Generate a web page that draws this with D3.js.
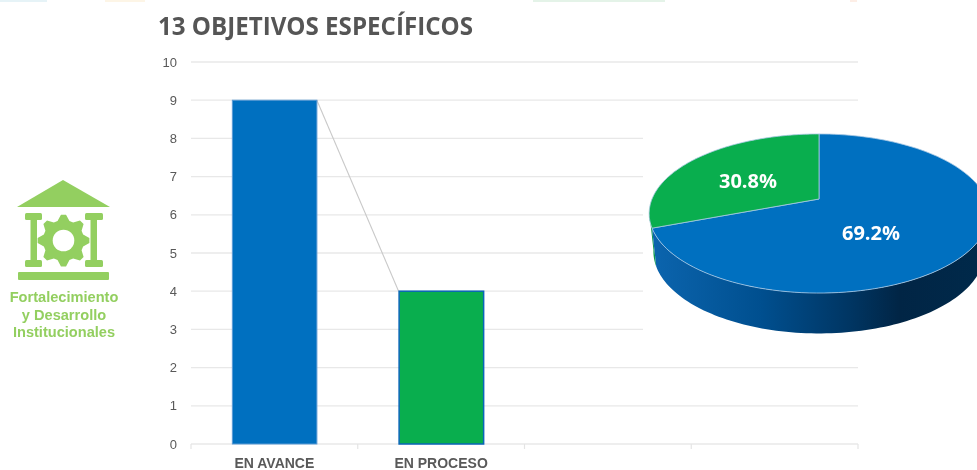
<!DOCTYPE html>
<html><head><meta charset="utf-8">
<script src="https://cdn.jsdelivr.net/npm/d3@7"></script>
<style>html,body{margin:0;padding:0;background:#fff;overflow:hidden}svg{display:block;filter:blur(0.45px)}</style>
</head><body><div id="c"></div>
<script>
const title = "13 OBJETIVOS ESPECÍFICOS";
const categories = ["EN AVANCE", "EN PROCESO", " ", "  "];
const barValues = [9, 4];
const barColors = ["#0070c0", "#09ae4e"];
const barStrokes = ["#5b9bd5", "#0a66b8"];
const yTicks = [0,1,2,3,4,5,6,7,8,9,10];
const pieLabels = ["69.2%", "30.8%"];
const pieColors = ["#0070c0", "#09ae4e"];
const iconLines = ["Fortalecimiento", "y Desarrollo", "Institucionales"];
const iconGreen = "#93cf60";
const W = 977, H = 470;

const svg = d3.select("#c").append("svg").attr("width", W).attr("height", H);
const defs = svg.append("defs");

// faint strips along the top edge
[[0,47,"#e6f3f7"],[105,145,"#fdf5e6"],[533,665,"#e4f3e8"],[850,857,"#fdeee6"]].forEach(s=>{
  svg.append("rect").attr("x",s[0]).attr("y",0).attr("width",s[1]-s[0]).attr("height",2).attr("fill",s[2]);
});

svg.append("text").attr("x",158).attr("y",35).text(title)
  .attr("font-family","'Open Sans',sans-serif").attr("font-weight",700).attr("font-size",25)
  .attr("fill","#555555").attr("textLength",315).attr("lengthAdjust","spacingAndGlyphs");

// ---- bar chart
const x = d3.scaleBand().domain(categories).range([191, 858]).paddingInner(0).paddingOuter(0);
const y = d3.scaleLinear().domain([0, 10]).range([444, 62]);
const barW = x.bandwidth() * 0.51;
const barX = i => x(categories[i]) + (x.bandwidth() - barW) / 2;

const grid = svg.append("g");
grid.selectAll("line").data(yTicks).join("line")
  .attr("x1",191).attr("x2",858).attr("y1",d=>y(d)).attr("y2",d=>y(d))
  .attr("stroke","#e8e8e8").attr("stroke-width",1.3);
grid.selectAll("text").data(yTicks).join("text")
  .attr("x",177).attr("y",d=>y(d)+4.5).attr("text-anchor","end").text(d=>d)
  .attr("font-family","'Liberation Sans',sans-serif").attr("font-size",13).attr("fill","#595959");

const edges = categories.map(c=>x(c)).concat([858]);
svg.append("g").selectAll("line").data(edges).join("line")
  .attr("x1",d=>d).attr("x2",d=>d).attr("y1",444).attr("y2",449)
  .attr("stroke","#e4e4e4").attr("stroke-width",1.2);

svg.append("rect").attr("x",643).attr("y",120).attr("width",334).attr("height",225).attr("fill","#fff");

svg.append("line")
  .attr("x1",barX(0)+barW).attr("y1",y(barValues[0]))
  .attr("x2",barX(1)).attr("y2",y(barValues[1]))
  .attr("stroke","#c9c9c9").attr("stroke-width",1.1);

svg.append("g").selectAll("rect").data(barValues).join("rect")
  .attr("x",(d,i)=>barX(i)+0.5).attr("y",d=>y(d))
  .attr("width",barW-0.5).attr("height",d=>y(0)-y(d))
  .attr("fill",(d,i)=>barColors[i]).attr("stroke",(d,i)=>barStrokes[i]).attr("stroke-width",(d,i)=>i?1.5:1);

svg.append("g").selectAll("text").data(categories.slice(0,2)).join("text")
  .attr("x",d=>x(d)+x.bandwidth()/2).attr("y",468).attr("text-anchor","middle").text(d=>d)
  .attr("font-family","'Liberation Sans',sans-serif").attr("font-weight",700).attr("font-size",14)
  .attr("fill","#595959");

// ---- perspective pie
const cx = 819, cy = 199, persp = -0.1824, ky = 40.6, rx = 167;
const project = a => {
  const u = Math.sin(a), v = -Math.cos(a), w = 1 + persp * v;
  return [cx + rx * u / w, (cy + ky * v) / w];
};
const lower = p => [cx + (p[0]-cx)*0.975, p[1]*1.03 - 213.5*0.03 + 38];
const arcs = d3.pie().sort(null)(barValues);
const line = d3.line();
const samples = (a0, a1) => d3.range(0, 121).map(i => a0 + (a1 - a0) * i / 120);

const grad = defs.append("linearGradient").attr("id","wall").attr("gradientUnits","userSpaceOnUse")
  .attr("x1",655).attr("x2",977).attr("y1",0).attr("y2",0);
[[0,"#0b64ad"],[0.33,"#004f8f"],[0.61,"#003562"],[0.76,"#012545"],[1,"#00294a"]].forEach(s=>
  grad.append("stop").attr("offset",s[0]).attr("stop-color",s[1]));

const wall = (a0, a1, fill) => {
  const top = samples(a0, a1).map(project);
  const bot = top.map(lower).reverse();
  svg.append("path").attr("d", line(top.concat(bot)) + "Z").attr("fill", fill);
};
const split = arcs[0].endAngle;
wall(split, split + 0.2, "#0a9a48");
wall(1.3, split, "url(#wall)");

const sector = d => line([[cx, cy]].concat(samples(d.startAngle, d.endAngle).map(project))) + "Z";
svg.append("g").selectAll("path").data(arcs).join("path")
  .attr("d", sector).attr("fill",(d,i)=>pieColors[i])
  .attr("stroke","#a9c9e4").attr("stroke-width",0.8).attr("stroke-linejoin","round");

svg.append("g").selectAll("text").data(pieLabels).join("text")
  .attr("x",(d,i)=>[871,748][i]).attr("y",(d,i)=>[240,188][i]).attr("text-anchor","middle").text(d=>d)
  .attr("font-family","'Open Sans',sans-serif").attr("font-weight",700).attr("font-size",20).attr("fill","#fff");

// ---- icon
const icon = svg.append("g").attr("fill",iconGreen);
icon.append("path").attr("d","M63,180L110,207H17Z");
[[25,17,30.5,6.5],[85,18,90.5,6.5]].forEach(c=>{
  icon.append("rect").attr("x",c[0]).attr("y",213).attr("width",c[1]).attr("height",7).attr("rx",1.5);
  icon.append("rect").attr("x",c[0]).attr("y",260).attr("width",c[1]).attr("height",7).attr("rx",1.5);
  icon.append("rect").attr("x",c[2]).attr("y",215).attr("width",c[3]).attr("height",50);
});
icon.append("rect").attr("x",18).attr("y",272).attr("width",91).attr("height",8).attr("rx",1);
const gearCx = 63.5, gearCy = 240.5, teeth = 8;
const gearPts = d3.range(teeth*4).map(i=>{
  const t = (i - 0.5) / (teeth*4) * 2*Math.PI;
  const r = (i % 4 === 0 || i % 4 === 1) ? 26 : 20.5;
  return [gearCx + r*Math.sin(t), gearCy - r*Math.cos(t)];
});
icon.append("path").attr("d", line(gearPts)+"Z");
icon.append("circle").attr("cx",gearCx).attr("cy",gearCy).attr("r",10.8).attr("fill","#fff");
icon.selectAll("text").data(iconLines).join("text")
  .attr("x",64).attr("y",(d,i)=>302+i*17.7).attr("text-anchor","middle").text(d=>d)
  .attr("font-family","'Liberation Sans',sans-serif").attr("font-weight",700).attr("font-size",14.6);
</script></body></html>
